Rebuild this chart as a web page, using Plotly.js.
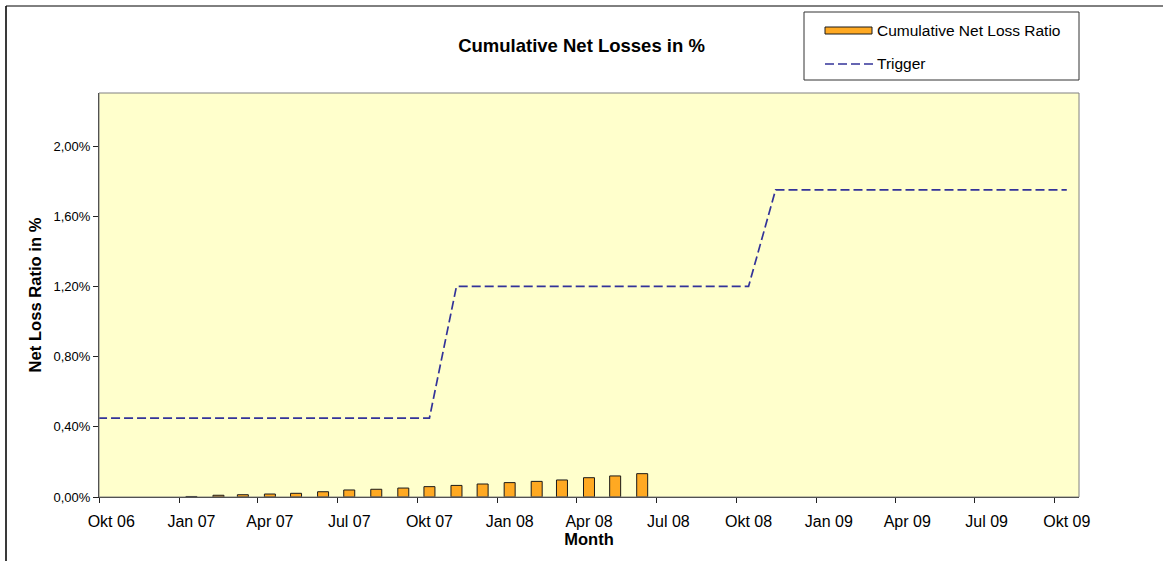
<!DOCTYPE html>
<html>
<head>
<meta charset="utf-8">
<script src="https://cdn.plot.ly/plotly-3.0.1.min.js"></script>
<style>
  html, body { margin: 0; padding: 0; background: #ffffff; }
  #chart { width: 1163px; height: 561px; }
</style>
</head>
<body>
<div id="chart"></div>
<script>
// ---- data ----
var barMonths = [
  '2007-01-15','2007-02-15','2007-03-15','2007-04-15','2007-05-15','2007-06-15',
  '2007-07-15','2007-08-15','2007-09-15','2007-10-15','2007-11-15','2007-12-15',
  '2008-01-15','2008-02-15','2008-03-15','2008-04-15','2008-05-15','2008-06-15'
];
var cumulativeNetLossRatio = [
  0.003, 0.010, 0.013, 0.017, 0.021, 0.030,
  0.040, 0.044, 0.051, 0.059, 0.066, 0.074,
  0.082, 0.089, 0.097, 0.110, 0.120, 0.133
];
var triggerMonths = [
  '2006-09-15','2006-10-15','2006-11-15','2006-12-15',
  '2007-01-15','2007-02-15','2007-03-15','2007-04-15','2007-05-15','2007-06-15',
  '2007-07-15','2007-08-15','2007-09-15','2007-10-15','2007-11-15','2007-12-15',
  '2008-01-15','2008-02-15','2008-03-15','2008-04-15','2008-05-15','2008-06-15',
  '2008-07-15','2008-08-15','2008-09-15','2008-10-15','2008-11-15','2008-12-15',
  '2009-01-15','2009-02-15','2009-03-15','2009-04-15','2009-05-15','2009-06-15',
  '2009-07-15','2009-08-15','2009-09-15','2009-10-15'
];
var triggerValues = [
  0.45, 0.45, 0.45, 0.45,
  0.45, 0.45, 0.45, 0.45, 0.45, 0.45,
  0.45, 0.45, 0.45, 0.45, 1.20, 1.20,
  1.20, 1.20, 1.20, 1.20, 1.20, 1.20,
  1.20, 1.20, 1.20, 1.20, 1.75, 1.75,
  1.75, 1.75, 1.75, 1.75, 1.75, 1.75,
  1.75, 1.75, 1.75, 1.75
];
var xTickVals = [
  '2006-10-15','2007-01-15','2007-04-15','2007-07-15','2007-10-15',
  '2008-01-15','2008-04-15','2008-07-15','2008-10-15',
  '2009-01-15','2009-04-15','2009-07-15','2009-10-15'
];
var xTickText = [
  'Okt 06','Jan 07','Apr 07','Jul 07','Okt 07',
  'Jan 08','Apr 08','Jul 08','Okt 08',
  'Jan 09','Apr 09','Jul 09','Okt 09'
];
var yTickVals = [0, 0.4, 0.8, 1.2, 1.6, 2.0];
var yTickText = ['0,00%','0,40%','0,80%','1,20%','1,60%','2,00%'];
var seriesNames = ['Cumulative Net Loss Ratio', 'Trigger'];

// ---- layout helpers ----
var W = 1163, H = 561;
var M = {l: 99, r: 84, t: 93, b: 64};
var PW = W - M.l - M.r, PH = H - M.t - M.b;
function px(x) { return (x - M.l) / PW; }
function py(y) { return (H - M.b - y) / PH; }

var FONT = 'Liberation Sans, Arial, Helvetica, sans-serif';
var BAR_COLOR = '#FFA922';
var LINE_COLOR = '#333399';

var traces = [
  {
    type: 'bar',
    name: seriesNames[0],
    x: barMonths,
    y: cumulativeNetLossRatio,
    width: 12.6 * 86400000,
    marker: {color: BAR_COLOR, line: {color: '#1a1a1a', width: 1}},
    showlegend: false,
    hoverinfo: 'x+y'
  },
  {
    type: 'scatter',
    mode: 'lines',
    name: seriesNames[1],
    x: triggerMonths,
    y: triggerValues,
    line: {color: LINE_COLOR, width: 1.7, dash: '9px,4px'},
    showlegend: false,
    cliponaxis: true
  }
];

var shapes = [
  // plot area frame
  {type: 'rect', xref: 'paper', yref: 'paper', x0: 0, x1: 1, y0: 0, y1: 1,
   line: {color: '#808080', width: 1}, layer: 'above'},
  // outer chart border (left & top)
  {type: 'line', xref: 'paper', yref: 'paper', x0: px(6), x1: px(6), y0: py(6), y1: py(H + 5),
   line: {color: '#3a3a3a', width: 2}},
  {type: 'line', xref: 'paper', yref: 'paper', x0: px(6), x1: px(W + 5), y0: py(6), y1: py(6),
   line: {color: '#000000', width: 1}},
  // legend box
  {type: 'rect', xref: 'paper', yref: 'paper', x0: px(804), x1: px(1079), y0: py(80), y1: py(12),
   fillcolor: '#ffffff', line: {color: '#333333', width: 1}},
  // legend swatch for bars
  {type: 'rect', xref: 'paper', yref: 'paper', x0: px(825), x1: px(872), y0: py(34), y1: py(27),
   fillcolor: BAR_COLOR, line: {color: '#1a1a1a', width: 1}},
  // legend swatch for trigger
  {type: 'line', xref: 'paper', yref: 'paper', x0: px(825), x1: px(873), y0: py(64), y1: py(64),
   line: {color: LINE_COLOR, width: 1.7, dash: '9px,4px'}}
];

var annotations = [
  {xref: 'paper', yref: 'paper', x: px(875), y: py(30.5), xanchor: 'left', yanchor: 'middle',
   text: seriesNames[0], showarrow: false, font: {family: FONT, size: 15.5, color: '#000'}},
  {xref: 'paper', yref: 'paper', x: px(875), y: py(64), xanchor: 'left', yanchor: 'middle',
   text: seriesNames[1], showarrow: false, font: {family: FONT, size: 15.5, color: '#000'}}
];

var layout = {
  width: W, height: H,
  margin: M,
  paper_bgcolor: '#ffffff',
  plot_bgcolor: '#FFFFCC',
  showlegend: false,
  bargap: 0,
  title: {
    text: '<b>Cumulative Net Losses in %</b>',
    x: 0.5, xref: 'container', xanchor: 'center',
    y: 1 - 45.5 / H, yref: 'container', yanchor: 'middle',
    font: {family: FONT, size: 18.5, color: '#000'}
  },
  xaxis: {
    type: 'date',
    range: ['2006-10-01', '2009-10-29'],
    tickmode: 'array',
    tickvals: xTickVals,
    ticktext: xTickText,
    ticks: 'outside', ticklen: 0,
    ticklabelstandoff: 10,
    tickfont: {family: FONT, size: 16, color: '#000'},
    minor: {tick0: '2006-10-01', dtick: 'M3', ticks: 'outside', ticklen: 5, tickwidth: 1, tickcolor: '#222', showgrid: false},
    showgrid: false, zeroline: false,
    showline: true, linecolor: '#222', linewidth: 1,
    title: {text: '<b>Month</b>', standoff: 2, font: {family: FONT, size: 16.5, color: '#000'}},
    fixedrange: true
  },
  yaxis: {
    range: [0, 2.302],
    tickmode: 'array',
    tickvals: yTickVals,
    ticktext: yTickText,
    ticks: 'outside', ticklen: 5, tickwidth: 1, tickcolor: '#222',
    tickfont: {family: FONT, size: 13, color: '#000'},
    showgrid: false, zeroline: false,
    showline: true, linecolor: '#222', linewidth: 1,
    title: {text: '<b>Net Loss Ratio in %</b>', standoff: 7, font: {family: FONT, size: 16.6, color: '#000'}},
    fixedrange: true
  },
  shapes: shapes,
  annotations: annotations
};

Plotly.newPlot('chart', traces, layout, {displayModeBar: false, staticPlot: true});
</script>
</body>
</html>
